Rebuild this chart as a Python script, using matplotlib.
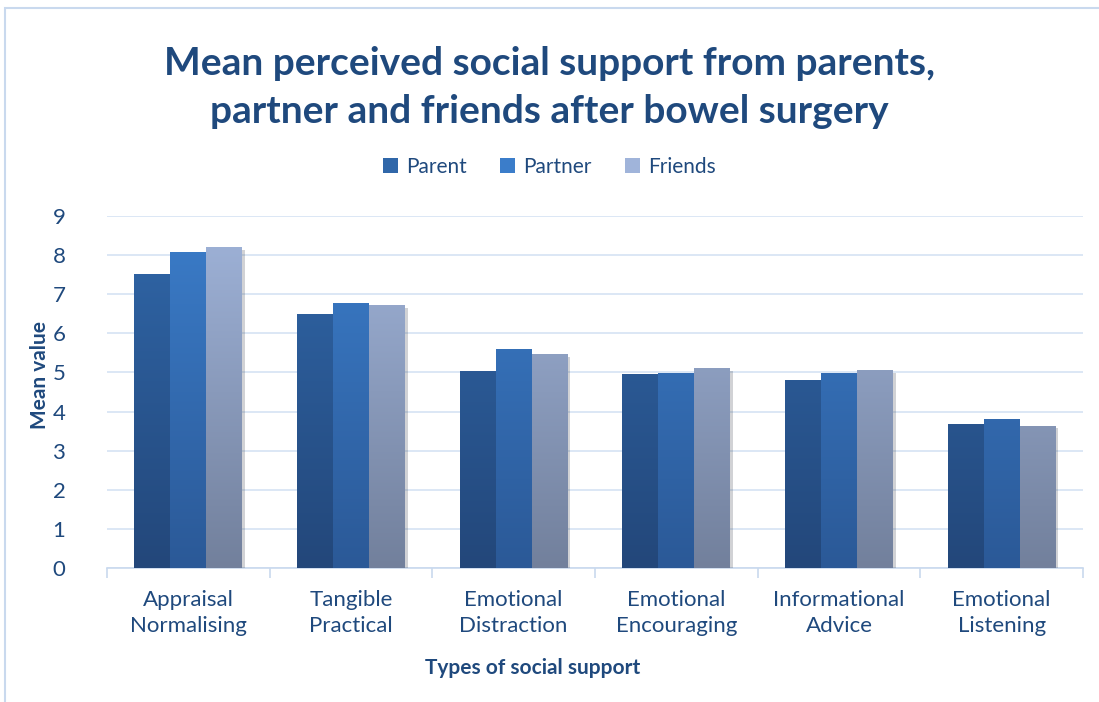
import matplotlib
matplotlib.use("Agg")
import matplotlib.pyplot as plt
import numpy as np
from matplotlib.colors import LinearSegmentedColormap
from matplotlib.patches import Rectangle
import matplotlib.patheffects as pe

plt.rcParams["font.family"] = ["Lato", "DejaVu Sans"]

categories = [
    "Appraisal\nNormalising", "Tangible\nPractical", "Emotional\nDistraction",
    "Emotional\nEncouraging", "Informational\nAdvice", "Emotional\nListening",
]
parent = [7.51, 6.49, 5.04, 4.95, 4.80, 3.68]
partner = [8.07, 6.77, 5.60, 4.99, 4.99, 3.80]
friends = [8.20, 6.73, 5.46, 5.11, 5.05, 3.64]
series = ["Parent", "Partner", "Friends"]
yticks = list(range(10))

TXT = "#1f497d"
GRID = "#d6e3f3"
# (top, bottom) gradient colours per series
GRAD = [("#3067a9", "#23477a"), ("#3b7dca", "#2b5997"), ("#a0b4da", "#72809c")]

fig = plt.figure(figsize=(10.99, 7.02), dpi=100)
ax = fig.add_axes([0.0974, 0.1909, 0.888, 0.5014])

# chart-area frame
fig.patches.append(Rectangle((5 / 1099, -0.05), 1.2, 1 - 8 / 702 + 0.05,
                             transform=fig.transFigure, fill=False,
                             edgecolor="#c9d9ee", lw=1.5))

x = np.arange(len(categories))
w = 0.221
grad = np.linspace(1, 0, 256).reshape(-1, 1)
shadowed = []
for i, (name, vals) in enumerate(zip(series, [parent, partner, friends])):
    cmap = LinearSegmentedColormap.from_list(name, [GRAD[i][1], GRAD[i][0]])
    bars = ax.bar(x + (i - 1) * w, vals, w, color=GRAD[i][0], label=name,
                  zorder=3, edgecolor="none")
    for b in bars:
        if i == 2:
            shadowed.append(b)
        im = ax.imshow(grad, aspect="auto", cmap=cmap, zorder=3.5,
                       extent=[b.get_x(), b.get_x() + b.get_width(), 0, 9])
        im.set_clip_path(b)

ax.set_xlim(-0.5, len(categories) - 0.5)
ax.set_ylim(0, 9)
ax.set_yticks(yticks)
ax.set_yticklabels([str(t) for t in yticks])
ax.yaxis.grid(True, color=GRID, lw=1.2, zorder=0)
ax.set_axisbelow(True)
for s in ["top", "right", "left"]:
    ax.spines[s].set_visible(False)
ax.spines["bottom"].set_color("#c9d9ee")
ax.spines["bottom"].set_linewidth(1.2)

ax.set_xticks(x)
ax.set_xticklabels(categories, fontsize=16, color=TXT, linespacing=1.35)
ax.tick_params(axis="x", length=0, pad=16)
ax.set_xticks(np.arange(-0.5, len(categories)), minor=True)
ax.tick_params(axis="x", which="minor", length=7, color="#c9d9ee", width=1.2)
ax.tick_params(axis="y", length=0, labelsize=16, labelcolor=TXT, pad=30)

ax.set_ylabel("Mean value", fontsize=15, fontweight="bold", color=TXT)
ax.yaxis.set_label_coords(-0.058, 0.548)
ax.set_xlabel("Types of social support", fontsize=15, fontweight="bold", color=TXT)
ax.xaxis.set_label_coords(0.436, -0.256)

fig.text(0.5, 0.935, "Mean perceived social support from parents,\npartner and friends after bowel surgery",
         ha="center", va="top", fontsize=28, fontweight="bold", color=TXT,
         linespacing=1.45)

leg = fig.legend(loc="center", bbox_to_anchor=(0.5, 0.762), ncol=3, frameon=False,
                 fontsize=15, handlelength=0.7, handleheight=0.7, handletextpad=0.4,
                 columnspacing=1.6)
for t in leg.get_texts():
    t.set_color(TXT)

# soft shadow on the right-hand bars (added after the legend so it stays clean)
for b in shadowed:
    b.set_path_effects([pe.SimplePatchShadow(offset=(2, -2), alpha=0.22), pe.Normal()])

fig.savefig("out.png", dpi=100)
